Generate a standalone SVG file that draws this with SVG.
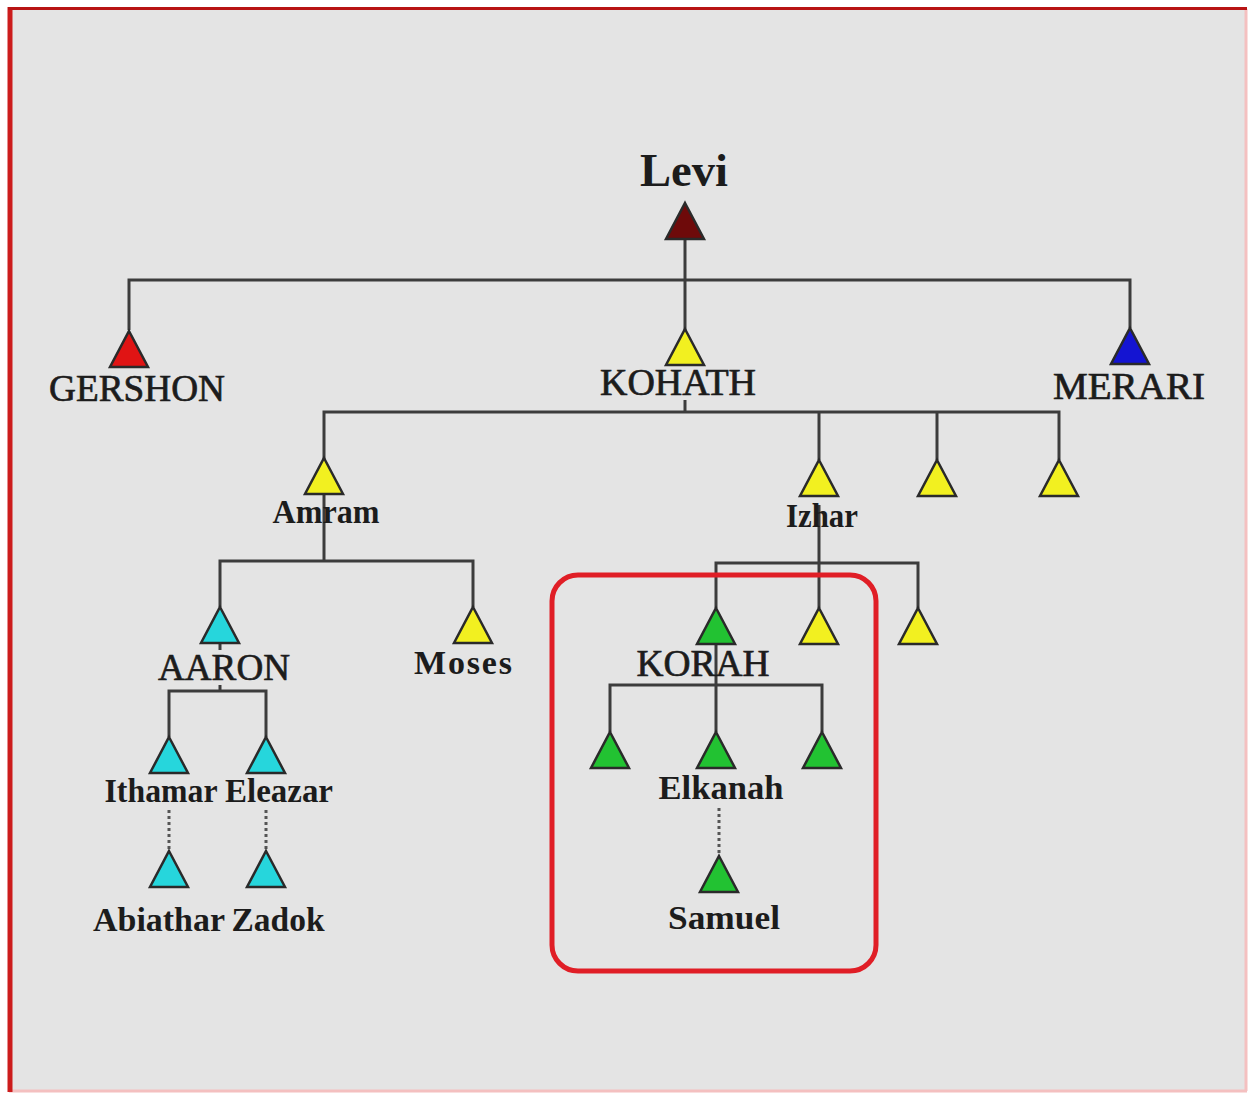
<svg xmlns="http://www.w3.org/2000/svg" width="1250" height="1094" viewBox="0 0 1250 1094">
  <style>
    .ln { stroke: #3c3c3c; stroke-width: 3; fill: none; }
    .dot { stroke: #555; stroke-width: 3; stroke-dasharray: 3 3; fill: none; }
    .tri { stroke: #2a2a2a; stroke-width: 2.5; stroke-linejoin: miter; }
    .levi { fill: #6e0a0a; }
    .red { fill: #e01414; }
    .blue { fill: #1414d2; }
    .yel { fill: #f2f020; }
    .cyan { fill: #26d6dc; }
    .grn { fill: #22c232; }
    text { font-family: "Liberation Serif", "Times New Roman", serif; fill: #1c1c1c; text-anchor: middle; }
    .cap { font-size: 38px; stroke: #1c1c1c; stroke-width: 0.7; }
    .nm { font-size: 34px; font-weight: bold; }
  </style>
  <defs>
    <!-- generic triangle, apex at origin -->
    <path id="t" d="M0,0 L19,36 L-19,36 Z"/>
  </defs>

  <!-- page -->
  <rect x="0" y="0" width="1250" height="1094" fill="#ffffff"/>
  <rect x="10" y="9" width="1236" height="1082" fill="#e4e4e4"/>
  <line x1="1246" y1="9" x2="1246" y2="1091" stroke="#f4c0c0" stroke-width="3"/>
  <line x1="9" y1="1091" x2="1247" y2="1091" stroke="#f4c0c0" stroke-width="3"/>
  <line x1="10" y1="7" x2="10" y2="1092" stroke="#cc1c1c" stroke-width="5"/>
  <line x1="8" y1="8.5" x2="1247" y2="8.5" stroke="#b81414" stroke-width="3"/>

  <!-- connectors -->
  <g id="connectors">
    <path class="ln" d="M685,240 V330 M129,330 V280 H1130 V328"/>
    <path class="ln" d="M685,400 V412 M324,460 V412 H1059 V460 M819,412 V460 M937,412 V460"/>
    <path class="ln" d="M324,493 V561 M220,607 V561 H473 V607"/>
    <path class="ln" d="M819,505 V608 M716,608 V563 H918 V608"/>
    <path class="ln" d="M220,643 V650 M220,685 V691 M169,737 V691 H266 V737"/>
    <path class="ln" d="M716,645 V732 M610,732 V685 H822 V732"/>
    <path class="dot" d="M169,810 V850 M266,810 V850 M719,808 V856"/>
  </g>

  <!-- highlight box -->
  <rect x="552" y="575" width="324" height="396" rx="26" fill="none" stroke="#e01e26" stroke-width="5"/>

  <g id="levi"><use href="#t" class="tri levi" x="685" y="203"/><text class="nm" x="684" y="186" style="font-size:46px" textLength="88" lengthAdjust="spacingAndGlyphs">Levi</text></g>
  <g id="gershon"><use href="#t" class="tri red" x="129" y="331"/><text class="cap" x="137" y="401" textLength="176" lengthAdjust="spacingAndGlyphs">GERSHON</text></g>
  <g id="kohath"><use href="#t" class="tri yel" x="685" y="329"/><text class="cap" x="678" y="395" textLength="156" lengthAdjust="spacingAndGlyphs">KOHATH</text></g>
  <g id="merari"><use href="#t" class="tri blue" x="1130" y="328"/><text class="cap" x="1129" y="399" textLength="152" lengthAdjust="spacingAndGlyphs">MERARI</text></g>

  <g id="amram"><use href="#t" class="tri yel" x="324" y="458"/><text class="nm" x="326" y="523" textLength="107" lengthAdjust="spacingAndGlyphs">Amram</text></g>
  <g id="izhar"><use href="#t" class="tri yel" x="819" y="460"/><text class="nm" x="822" y="527" textLength="72" lengthAdjust="spacingAndGlyphs">Izhar</text></g>
  <g id="kohath-son-3"><use href="#t" class="tri yel" x="937" y="460"/></g>
  <g id="kohath-son-4"><use href="#t" class="tri yel" x="1059" y="460"/></g>

  <g id="aaron"><use href="#t" class="tri cyan" x="220" y="607"/><text class="cap" x="224" y="680" textLength="132" lengthAdjust="spacingAndGlyphs">AARON</text></g>
  <g id="moses"><use href="#t" class="tri yel" x="473" y="607"/><text class="nm" x="463" y="674" textLength="98">Moses</text></g>

  <g id="korah"><use href="#t" class="tri grn" x="716" y="608"/><text class="cap" x="703" y="676" textLength="133" lengthAdjust="spacingAndGlyphs">KORAH</text></g>
  <g id="izhar-son-2"><use href="#t" class="tri yel" x="819" y="608"/></g>
  <g id="izhar-son-3"><use href="#t" class="tri yel" x="918" y="608"/></g>

  <g id="ithamar"><use href="#t" class="tri cyan" x="169" y="737"/><text class="nm" x="161" y="802" textLength="113" lengthAdjust="spacingAndGlyphs">Ithamar</text></g>
  <g id="eleazar"><use href="#t" class="tri cyan" x="266" y="737"/><text class="nm" x="279" y="802" textLength="108" lengthAdjust="spacingAndGlyphs">Eleazar</text></g>

  <g id="korah-son-1"><use href="#t" class="tri grn" x="610" y="732"/></g>
  <g id="elkanah"><use href="#t" class="tri grn" x="716" y="732"/><text class="nm" x="721" y="799" textLength="125" lengthAdjust="spacingAndGlyphs">Elkanah</text></g>
  <g id="korah-son-3"><use href="#t" class="tri grn" x="822" y="732"/></g>

  <g id="abiathar"><use href="#t" class="tri cyan" x="169" y="851"/><text class="nm" x="159" y="931" textLength="132" lengthAdjust="spacingAndGlyphs">Abiathar</text></g>
  <g id="zadok"><use href="#t" class="tri cyan" x="266" y="851"/><text class="nm" x="278" y="931" textLength="93" lengthAdjust="spacingAndGlyphs">Zadok</text></g>
  <g id="samuel"><use href="#t" class="tri grn" x="719" y="856"/><text class="nm" x="724" y="929" textLength="112" lengthAdjust="spacingAndGlyphs">Samuel</text></g>
</svg>
